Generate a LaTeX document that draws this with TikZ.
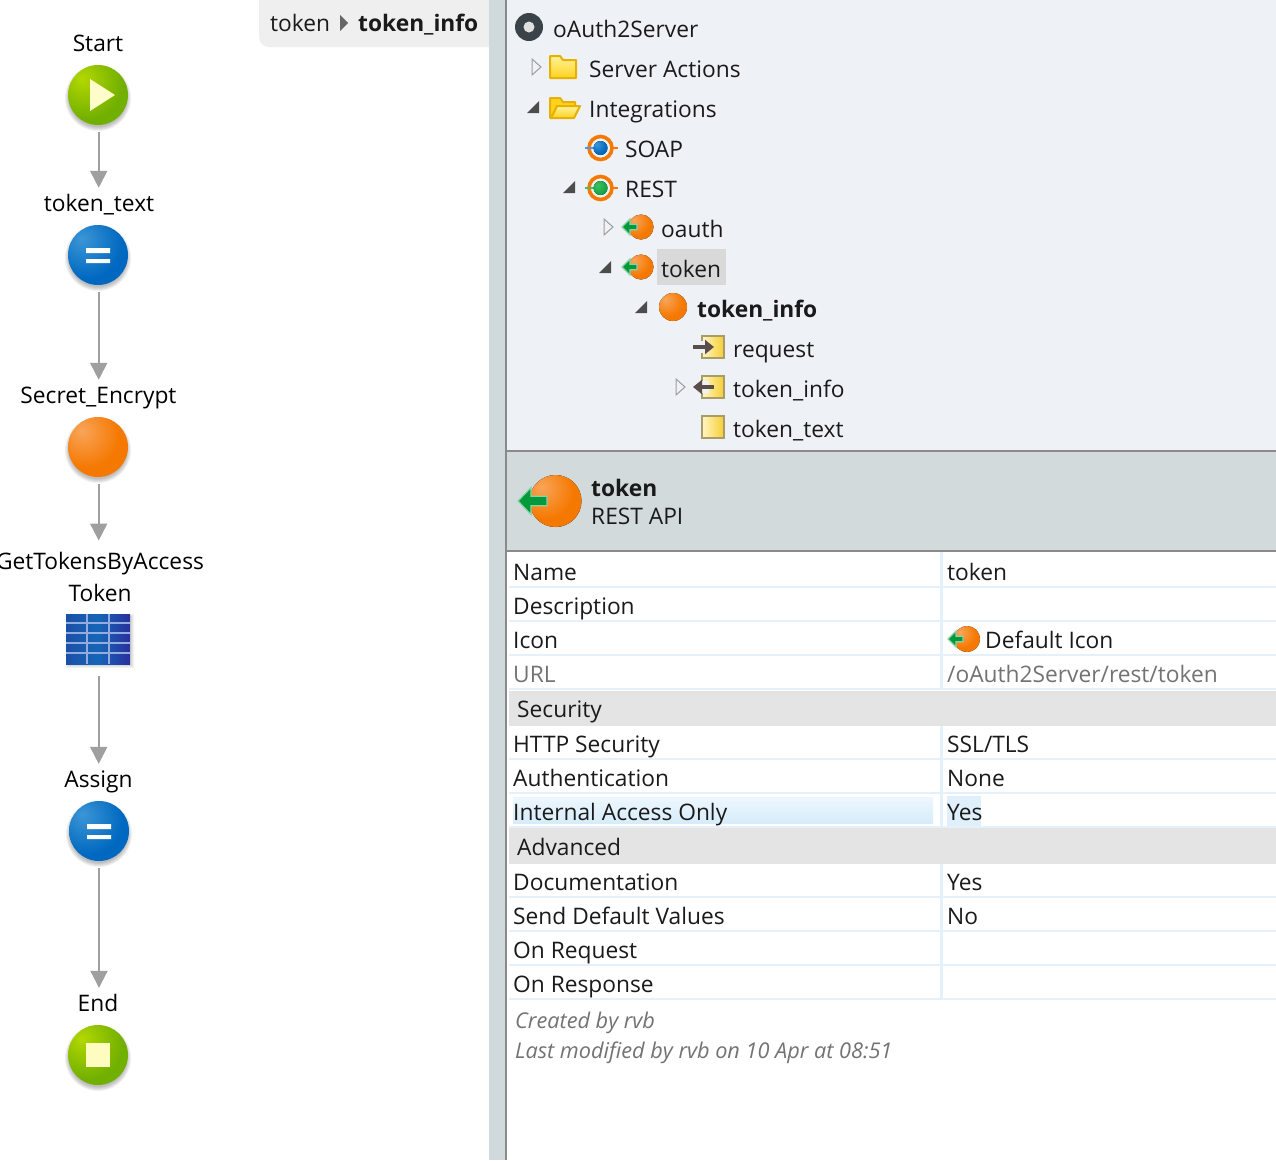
\documentclass[tikz,border=0pt]{standalone}
\usepackage{fontspec}
\setmainfont{Open Sans}
\usetikzlibrary{arrows.meta}
\definecolor{panebg}{HTML}{EEF2F6}
\definecolor{sidebg}{HTML}{D0D9DC}
\definecolor{headbg}{HTML}{D2DADC}
\definecolor{rule}{HTML}{8A8A8A}
\definecolor{band}{HTML}{E4E4E4}
\definecolor{rowline}{HTML}{E4F1FA}
\definecolor{flowgray}{HTML}{9F9F9F}
\definecolor{txt}{HTML}{1A1A1A}
\definecolor{crumbbg}{HTML}{EFEFEF}
\definecolor{gO}{HTML}{F57800}\definecolor{gOa}{HTML}{F9A55A}
\definecolor{gG}{HTML}{72B000}\definecolor{gGa}{HTML}{B4D800}
\definecolor{gB}{HTML}{0068C0}\definecolor{gBa}{HTML}{3C96D6}
\definecolor{gGr}{HTML}{009A3A}\definecolor{gGra}{HTML}{40C060}
\definecolor{tabL}{HTML}{1C50A8}\definecolor{tabM}{HTML}{1566B8}\definecolor{tabR}{HTML}{2A2F9C}\definecolor{tabLine}{HTML}{93ABDD}
\definecolor{hlTop}{HTML}{EEF7FE}\definecolor{hlBot}{HTML}{D6ECFA}\definecolor{hlYes}{HTML}{DFF0FC}
\definecolor{docL}{HTML}{FFF6C4}\definecolor{docR}{HTML}{F6CE30}\definecolor{docEdge}{HTML}{A89C6C}
\definecolor{arrowDark}{HTML}{5A4D4A}
\definecolor{folderEdge}{HTML}{E8B000}\definecolor{folderT}{HTML}{FFF39A}\definecolor{folderB}{HTML}{FFD21E}
\definecolor{discDark}{HTML}{3A4448}
\pgfdeclareradialshading{orangeball}{\pgfpoint{-14bp}{14bp}}{color(0bp)=(gOa);color(28bp)=(gO);color(100bp)=(gO)}
\pgfdeclareradialshading{greenball}{\pgfpoint{-14bp}{14bp}}{color(0bp)=(gGa);color(30bp)=(gG);color(100bp)=(gG)}
\pgfdeclareradialshading{blueball}{\pgfpoint{-14bp}{14bp}}{color(0bp)=(gBa);color(30bp)=(gB);color(100bp)=(gB)}
\pgfdeclareradialshading{gemball}{\pgfpoint{-10bp}{10bp}}{color(0bp)=(gGra);color(40bp)=(gGr);color(100bp)=(gGr)}
\tikzset{
  base font/.style={font=\fontsize{22.75}{32}\selectfont,text=txt,inner sep=0pt},
  flowlabel/.style={base font,text=black,anchor=base,align=center},
  rowtext/.style={base font,anchor=base west},
  treetext/.style={base font,anchor=base west},
  boldtext/.style={base font,anchor=base west,font=\fontsize{22.75}{32}\selectfont\bfseries},
  dimtext/.style={rowtext,text=black!55},
  notetext/.style={rowtext,text=black!55,font=\fontsize{21.7}{28}\selectfont\itshape},
  flownode/.style={circle,minimum size=60pt,inner sep=0pt},
  flowarrow/.style={draw=flowgray,line width=2pt,-{Triangle[width=17pt,length=17pt,fill=flowgray]},shorten <=7pt},
  collapsed/.style={draw=black!38,fill=panebg,line width=1pt},
  expanded/.style={fill=black!70},
  docicon/.style={left color=docL,right color=docR,draw=docEdge,line width=1.6pt},
  folderline/.style={draw=folderEdge,line width=2pt,line join=round},
  iconarrow/.style={arrowDark,line width=4.5pt,-{Triangle[width=14pt,length=9pt]}},
}
\newcommand{\softshadow}[3]{\foreach \sr in {0,1,2,3,4}{\fill[black,opacity=.055] (#1,#2+3) circle ({#3+\sr-1});}}
% #1 cx, #2 cy, #3 radius, #4 tip x, #5 head length, #6 head half height, #7 shaft half height, #8 tail x
\newcommand{\apiicon}[8]{%
  \fill[shading=orangeball] (#1,#2) circle (#3);
  \filldraw[gGr,draw=gGr!45!white,line width=1.2pt,line join=miter] (#4,#2) -- (#4+#5,#2-#6) -- (#4+#5,#2-#7) -- (#8,#2-#7) -- (#8,#2+#7) -- (#4+#5,#2+#7) -- (#4+#5,#2+#6) -- cycle;
}
\newcommand{\ringicon}[4]{%
  \draw[gO,line width=3.6pt] (#1,#2) circle (11.5);
  \draw[gO,line width=2pt] (#1+10,#2) -- (#1+17,#2);
  \draw[#4,line width=2.5pt] (#1-15.5,#2) -- (#1,#2);
  \fill[shading=#3] (#1,#2) circle (7);
}
\newcommand{\trileft}[2]{\filldraw[collapsed] (#1,#2-8) -- (#1+9,#2) -- (#1,#2+8) -- cycle;}
\newcommand{\triopen}[2]{\fill[expanded] (#1+12,#2-6) -- (#1+12,#2+6) -- (#1,#2+6) -- cycle;}
\begin{document}
\begin{tikzpicture}[x=1pt,y=-1pt]
\useasboundingbox (0,0) rectangle (1276,1160);
\clip (0,0) rectangle (1276,1160);
\fill[white] (0,0) rectangle (1276,1160);
% breadcrumb
\fill[crumbbg,rounded corners=10pt] (259,-20) rectangle (520,47);
% panes
\fill[sidebg] (489,0) rectangle (505,1160);
\fill[rule] (505,0) rectangle (507,1160);
\fill[panebg] (507,0) rectangle (1276,450);
\fill[headbg] (507,450) rectangle (1276,551);
\fill[rule] (507,450) rectangle (1276,452);
\fill[rule] (507,550) rectangle (1276,552);
\node[treetext] (crumba) at (270,31) {token};
\fill[black!60] (340,15) -- (348,23) -- (340,31) -- cycle;
\node[boldtext] (crumbb) at (358,31) {token\_info};
% flow: shadows
\softshadow{98}{95}{30}
\softshadow{98}{255}{30}
\softshadow{98}{447}{30}
\softshadow{99}{831}{30}
\softshadow{98}{1055}{30}
\foreach \sr in {0,1,2}{\fill[black,opacity=.05] (66-\sr+2,614-\sr+2) rectangle (130+\sr+2,664+\sr+2);}
% flow: nodes
\node[flowlabel] (lstart) at (98,51) {Start};
\node[flownode,shading=greenball] (start) at (98,95) {};
\fill[white!80!yellow] (90,79) -- (115,95) -- (90,111) -- cycle;
\node[flowlabel,text height=18pt] (ltext) at (99,211) {token\_text};
\node[flownode,shading=blueball] (tokentext) at (98,255) {};
\fill[white] (86,248) rectangle (110,253) (86,259) rectangle (110,263);
\node[flowlabel,text height=18pt] (lsecret) at (98.5,403) {Secret\_Encrypt};
\node[flownode,shading=orangeball] (secret) at (98,447) {};
\node[flowlabel,anchor=north] (lget) at (100,552.5) {GetTokensByAccess\\Token};
\node[rectangle,minimum width=64pt,minimum height=50pt,inner sep=0pt,left color=tabL,right color=tabR,middle color=tabM] (table) at (98,639) {};
\foreach \ty in {623,633,643,653}{\draw[tabLine,line width=1.6pt] (66,\ty) -- (130,\ty);}
\foreach \tx in {87,109}{\draw[tabLine,line width=1.6pt] (\tx,614) -- (\tx,664);}
\node[flowlabel,text height=18pt] (lassign) at (98.5,787) {Assign};
\node[flownode,shading=blueball] (assign) at (99,831) {};
\fill[white] (87,824) rectangle (111,829) (87,835) rectangle (111,839);
\node[flowlabel,text height=18pt] (lend) at (98,1011) {End};
\node[flownode,shading=greenball] (endn) at (98,1055) {};
\fill[white!75!yellow] (86,1043) rectangle (110,1067);
% flow: connectors
\draw[flowarrow,shorten >=5pt] ([xshift=.7pt]start.south) -- ([xshift=.7pt]start.south |- ltext.north);
\draw[flowarrow,shorten >=5pt] ([xshift=.7pt]tokentext.south) -- ([xshift=.7pt]tokentext.south |- lsecret.north);
\draw[flowarrow,shorten >=12pt] ([xshift=.7pt]secret.south) -- ([xshift=.7pt]secret.south |- lget.north);
\draw[flowarrow,shorten <=12pt,shorten >=5pt] ([xshift=.7pt]table.south) -- ([xshift=.7pt]table.south |- lassign.north);
\draw[flowarrow,shorten >=5pt] (assign.south) -- (assign.south |- lend.north);
% tree
\fill[discDark] (529,27) circle (14);
\fill[black!12] (529,27) circle (5.5);
\node[treetext] (t1) at (553,37) {oAuth2Server};
\trileft{532}{67}
\filldraw[folderline,top color=folderT,bottom color=folderB] (550,78) -- (550,56) -- (560,56) -- (563,60) -- (576,60) -- (576,78) -- cycle;
\node[treetext] (t2) at (589,77) {Server Actions};
\triopen{527}{107}
\filldraw[folderline,fill=folderB] (550,118) -- (550,98) -- (560,98) -- (563,102) -- (575,102) -- (575,106) -- (558,106) -- (551,118) -- cycle;
\filldraw[folderline,top color=folderT,bottom color=folderB] (551,118) -- (557,106) -- (580,106) -- (574,118) -- cycle;
\node[treetext] (t3) at (589,117) {Integrations};
\ringicon{600.5}{148}{blueball}{blue!60!cyan!70!white}
\node[treetext] (t4) at (625,157) {SOAP};
\triopen{563}{187}
\ringicon{600.5}{188}{gemball}{gGr!70!white}
\node[treetext] (t5) at (625,197) {REST};
\trileft{604}{227}
\apiicon{641}{227}{12.5}{622}{8}{8}{2.8}{637}
\node[treetext] (t6) at (661,237) {oauth};
\triopen{599}{267}
\apiicon{641}{267}{12.5}{622}{8}{8}{2.8}{637}
\fill[black!15] (657,249) rectangle (726,285);
\node[treetext] (t7) at (661,277) {token};
\triopen{635}{307}
\fill[shading=orangeball] (673,307) circle (14);
\node[boldtext] (t8) at (697,317) {token\_info};
\filldraw[docicon] (702,336) rectangle (724,358);
\fill[panebg] (692,341) rectangle (709,353);
\draw[iconarrow] (693,347) -- (714,347);
\node[treetext] (t9) at (733,357) {request};
\trileft{676}{387}
\filldraw[docicon] (702,376) rectangle (724,398);
\fill[panebg] (692,381) rectangle (709,393);
\draw[iconarrow] (714,387) -- (693,387);
\node[treetext] (t10) at (733,397) {token\_info};
\filldraw[docicon] (702,416) rectangle (724,438);
\node[treetext] (t11) at (733,437) {token\_text};
% header
\apiicon{555.5}{501}{26}{518}{13}{13.5}{4.8}{547}
\node[boldtext] (h1) at (591,496) {token};
\node[rowtext] (h2) at (591,524) {REST API};
% table
\foreach \ly in {587,621,655,689,759,793,827,897,931,965,999}{\fill[rowline] (509,\ly-1) rectangle (1276,\ly+1);}
\foreach \sa/\sb in {552/690,726/828,864/1000}{\fill[rowline] (940,\sa) rectangle (943,\sb);}
\fill[band] (509,691) rectangle (1276,726);
\fill[band] (509,828) rectangle (1276,864);
\fill[top color=hlTop,bottom color=hlBot] (513,797) rectangle (933,823);
\fill[hlYes] (947,796) rectangle (981,826);
\node[rowtext] (r1) at (513,580) {Name};
\node[rowtext] (v1) at (947,580) {token};
\node[rowtext] (r2) at (513,614) {Description};
\node[rowtext] (r3) at (513,648) {Icon};
\apiicon{967}{639}{13}{948}{8}{8}{2.8}{963}
\node[rowtext] (v3) at (985,648) {Default Icon};
\node[dimtext] (r4) at (513,682) {URL};
\node[dimtext] (v4) at (947,682) {/oAuth2Server/rest/token};
\node[rowtext] (s1) at (517,717) {Security};
\node[rowtext] (r5) at (513,752) {HTTP Security};
\node[rowtext] (v5) at (947,752) {SSL/TLS};
\node[rowtext] (r6) at (513,786) {Authentication};
\node[rowtext] (v6) at (947,786) {None};
\node[rowtext] (r7) at (513,820) {Internal Access Only};
\node[rowtext] (v7) at (947,820) {Yes};
\node[rowtext] (s2) at (517,855) {Advanced};
\node[rowtext] (r8) at (513,890) {Documentation};
\node[rowtext] (v8) at (947,890) {Yes};
\node[rowtext] (r9) at (513,924) {Send Default Values};
\node[rowtext] (v9) at (947,924) {No};
\node[rowtext] (r10) at (513,958) {On Request};
\node[rowtext] (r11) at (513,992) {On Response};
\node[notetext] (n1) at (515,1028) {Created by rvb};
\node[notetext] (n2) at (515,1058) {Last modified by rvb on 10 Apr at 08:51};
\end{tikzpicture}
\end{document}
